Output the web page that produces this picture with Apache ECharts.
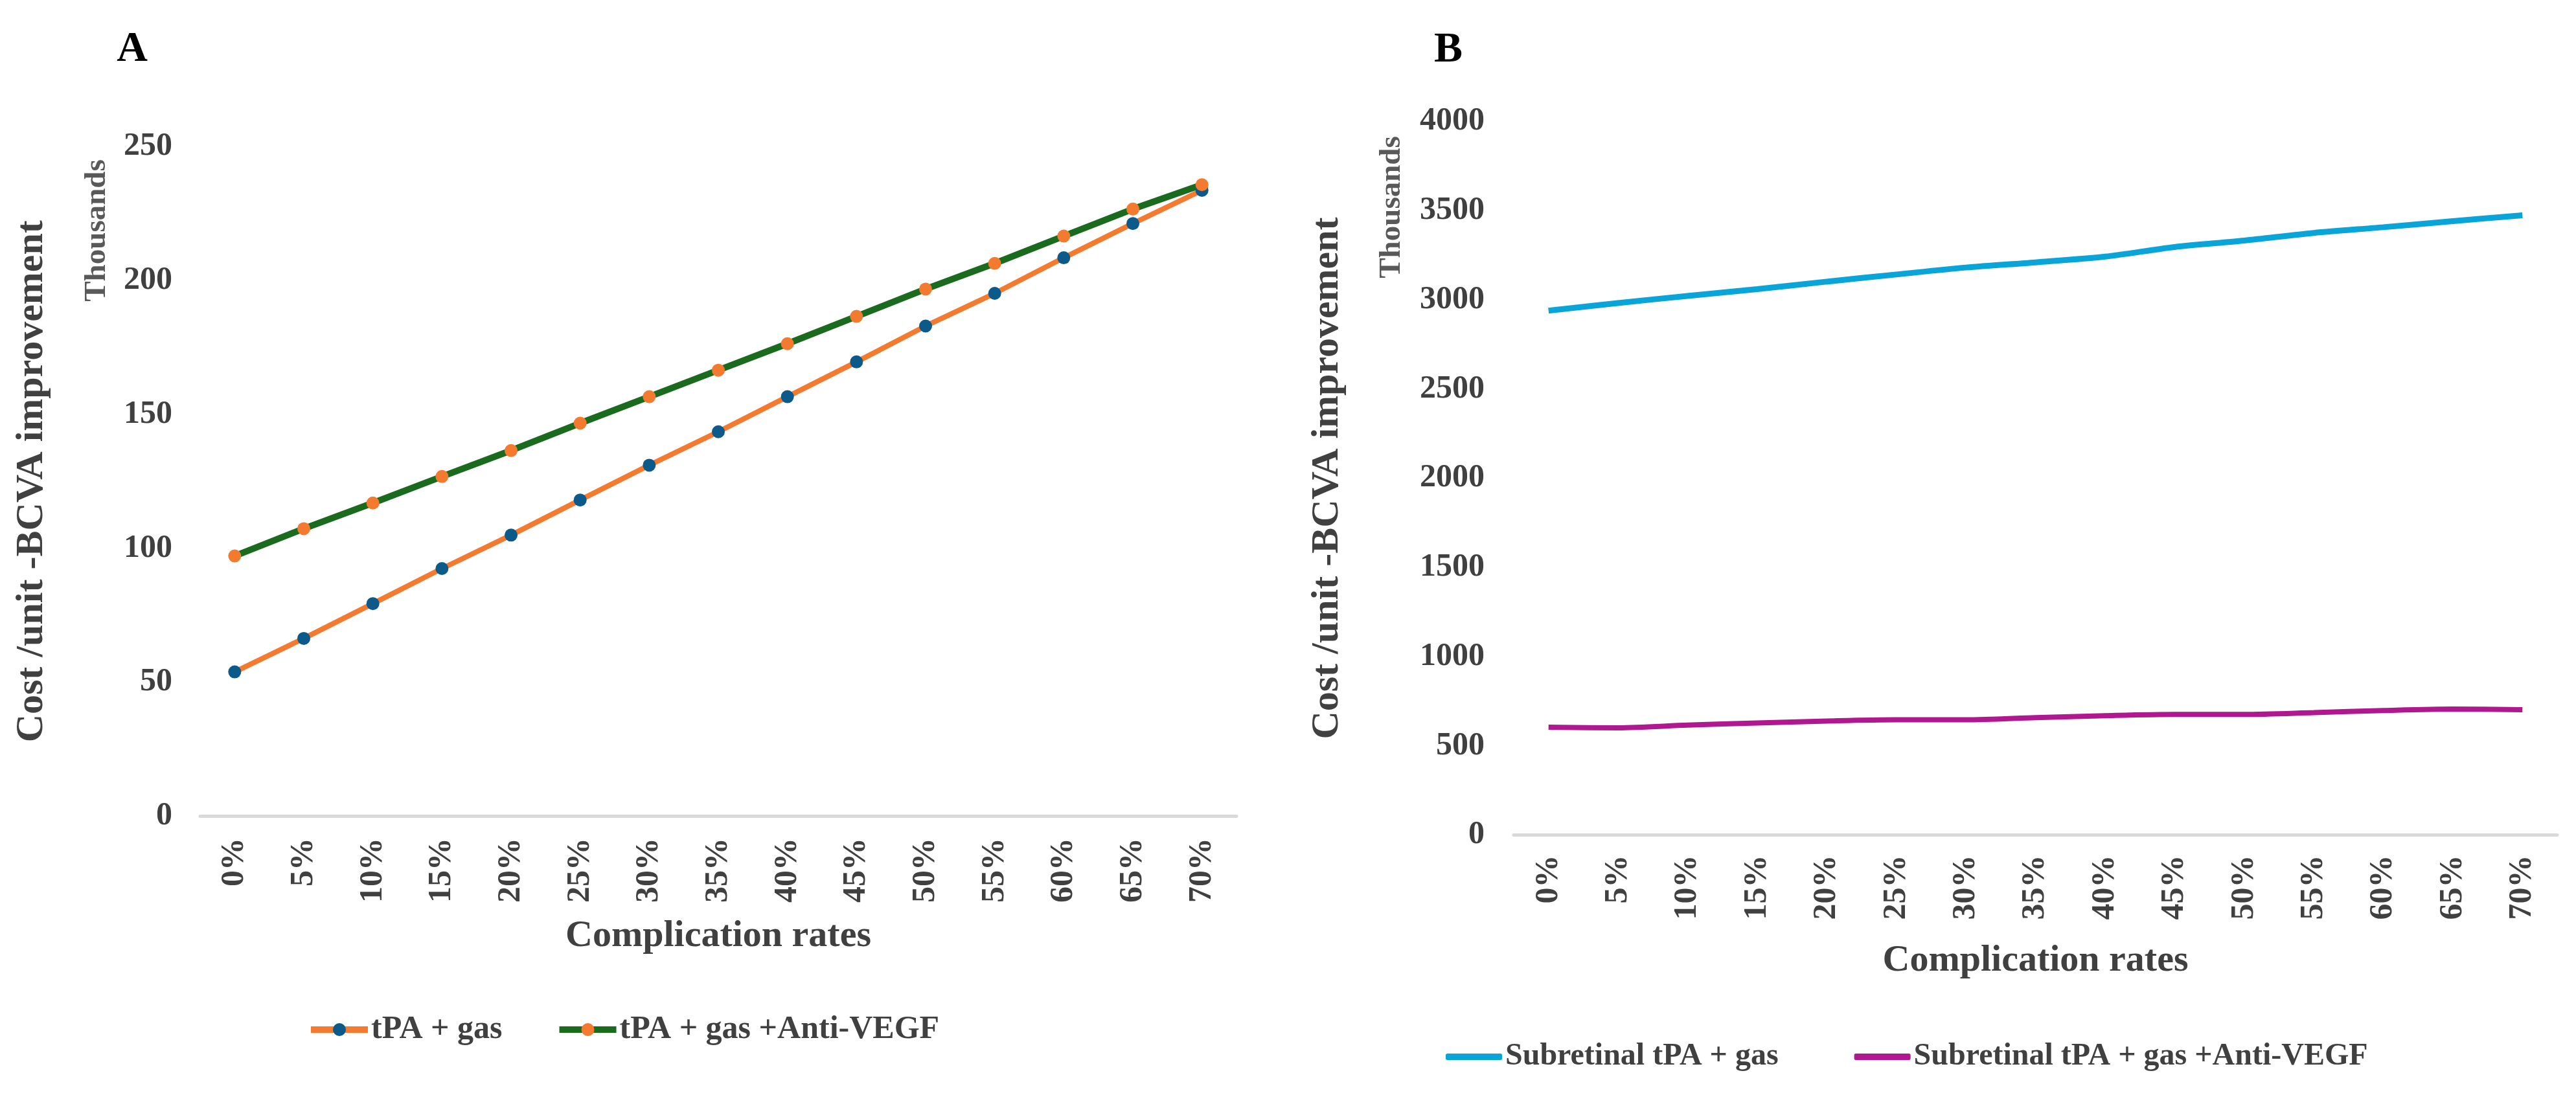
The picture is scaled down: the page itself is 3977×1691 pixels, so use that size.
<!DOCTYPE html>
<html>
<head>
<meta charset="utf-8">
<script src="https://cdn.jsdelivr.net/npm/echarts@6/dist/echarts.min.js"></script>
<style>
  html, body { margin: 0; padding: 0; background: #fff; }
  #chart { width: 3977px; height: 1691px; }
</style>
</head>
<body>
<div id="chart"></div>
<script>
var dom = document.getElementById("chart");
var myChart = echarts.init(dom);

// complication rate categories (same for both panels)
var rates = ['0%', '5%', '10%', '15%', '20%', '25%', '30%', '35%', '40%', '45%', '50%', '55%', '60%', '65%', '70%'];

// panel A, thousands
var tpaGas = [53.8, 66.3, 79.3, 92.4, 104.9, 118, 131, 143.5, 156.6, 169.6, 183, 195.2, 208.5, 221.3, 233.7];
var tpaGasVegf = [97.1, 107.3, 116.9, 126.8, 136.5, 146.7, 156.6, 166.5, 176.4, 186.6, 196.8, 206.4, 216.6, 226.7, 235.8];

// panel B, thousands
var subTpaGas = [2939, 2982, 3022, 3060, 3102, 3142, 3181, 3210, 3242, 3296, 3332, 3375, 3407, 3441, 3474];
var subTpaGasVegf = [604, 601, 616, 628, 639, 646, 646, 658, 669, 676, 676, 686, 698, 706, 702];

var serif = '"Liberation Serif", "Times New Roman", serif';
var txt = '#404040';

function xAx(idx, margin, gap) {
    return {
        type: 'category',
        gridIndex: idx,
        data: rates,
        boundaryGap: true,
        axisLine: { show: true, lineStyle: { color: '#d9d9d9', width: 5 } },
        axisTick: { show: false },
        splitLine: { show: false },
        axisLabel: {
            rotate: 90, interval: 0, margin: margin,
            fontFamily: serif, fontWeight: 'bold', fontSize: 50, color: txt
        },
        name: 'Complication rates',
        nameLocation: 'middle',
        nameGap: gap,
        nameTextStyle: { fontFamily: serif, fontWeight: 'bold', fontSize: 58, color: txt, verticalAlign: 'middle' }
    };
}

function yAx(idx, max, step, margin, gap) {
    return {
        type: 'value',
        gridIndex: idx,
        min: 0, max: max, interval: step,
        axisLine: { show: false },
        axisTick: { show: false },
        splitLine: { show: false },
        axisLabel: {
            margin: margin, fontFamily: serif, fontWeight: 'bold', fontSize: 50, color: txt,
            formatter: function (v) { return String(v); }
        },
        name: 'Cost /unit -BCVA improvement',
        nameLocation: 'middle',
        nameGap: gap,
        nameRotate: 90,
        nameTextStyle: { fontFamily: serif, fontWeight: 'bold', fontSize: 60, color: txt, verticalAlign: 'middle' }
    };
}

option = {
    backgroundColor: '#ffffff',
    animation: false,
    grid: [
        { left: 309, top: 226.5, width: 1600, height: 1033.5, outerBoundsMode: 'none' },
        { left: 2337, top: 187.5, width: 1611, height: 1102, outerBoundsMode: 'none' }
    ],
    xAxis: [
        xAx(0, 34, 186),
        xAx(1, 31, 195)
    ],
    yAxis: [
        yAx(0, 250, 50, 43, 260),
        yAx(1, 4000, 500, 45, 288)
    ],
    legend: [
        {
            data: ['tPA + gas', 'tPA + gas +Anti-VEGF'],
            left: 470, top: 1560,
            itemWidth: 88, itemHeight: 25, itemGap: 83,
            lineStyle: { width: 10 },
            textStyle: { fontFamily: serif, fontWeight: 'bold', fontSize: 50, color: txt }
        },
        {
            data: [
                { name: 'Subretinal tPA + gas', icon: 'roundRect' },
                { name: 'Subretinal tPA + gas +Anti-VEGF', icon: 'roundRect' }
            ],
            left: 2227, top: 1603,
            itemWidth: 87, itemHeight: 10, itemGap: 117,
            textStyle: { fontFamily: serif, fontWeight: 'bold', fontSize: 48, color: txt }
        }
    ],
    graphic: [
        { type: 'text', x: 204, y: 77, style: { text: 'A', font: 'bold 66px ' + serif, fill: '#000', align: 'center', verticalAlign: 'middle' } },
        { type: 'text', x: 2236, y: 78, style: { text: 'B', font: 'bold 66px ' + serif, fill: '#000', align: 'center', verticalAlign: 'middle' } },
        { type: 'text', x: 150, y: 356, rotation: Math.PI / 2, style: { text: 'Thousands', font: 'bold 47px ' + serif, fill: '#595959', align: 'center', verticalAlign: 'middle' } },
        { type: 'text', x: 2149, y: 320, rotation: Math.PI / 2, style: { text: 'Thousands', font: 'bold 47px ' + serif, fill: '#595959', align: 'center', verticalAlign: 'middle' } }
    ],
    series: [
        {
            name: 'tPA + gas', type: 'line', xAxisIndex: 0, yAxisIndex: 0,
            data: tpaGas,
            symbol: 'circle', symbolSize: 20,
            lineStyle: { color: '#f47a30', width: 8 },
            itemStyle: { color: '#0b5a8a' }
        },
        {
            name: 'tPA + gas +Anti-VEGF', type: 'line', xAxisIndex: 0, yAxisIndex: 0,
            data: tpaGasVegf,
            symbol: 'circle', symbolSize: 20,
            lineStyle: { color: '#1b6b1f', width: 10 },
            itemStyle: { color: '#f47a30' }
        },
        {
            name: 'Subretinal tPA + gas', type: 'line', xAxisIndex: 1, yAxisIndex: 1,
            data: subTpaGas,
            symbol: 'none', smooth: 0.3,
            lineStyle: { color: '#09a5d9', width: 9 },
            itemStyle: { color: '#09a5d9' }
        },
        {
            name: 'Subretinal tPA + gas +Anti-VEGF', type: 'line', xAxisIndex: 1, yAxisIndex: 1,
            data: subTpaGasVegf,
            symbol: 'none', smooth: 0.3,
            lineStyle: { color: '#b0188f', width: 8 },
            itemStyle: { color: '#b0188f' }
        }
    ]
};

myChart.setOption(option, true);
</script>
</body>
</html>
